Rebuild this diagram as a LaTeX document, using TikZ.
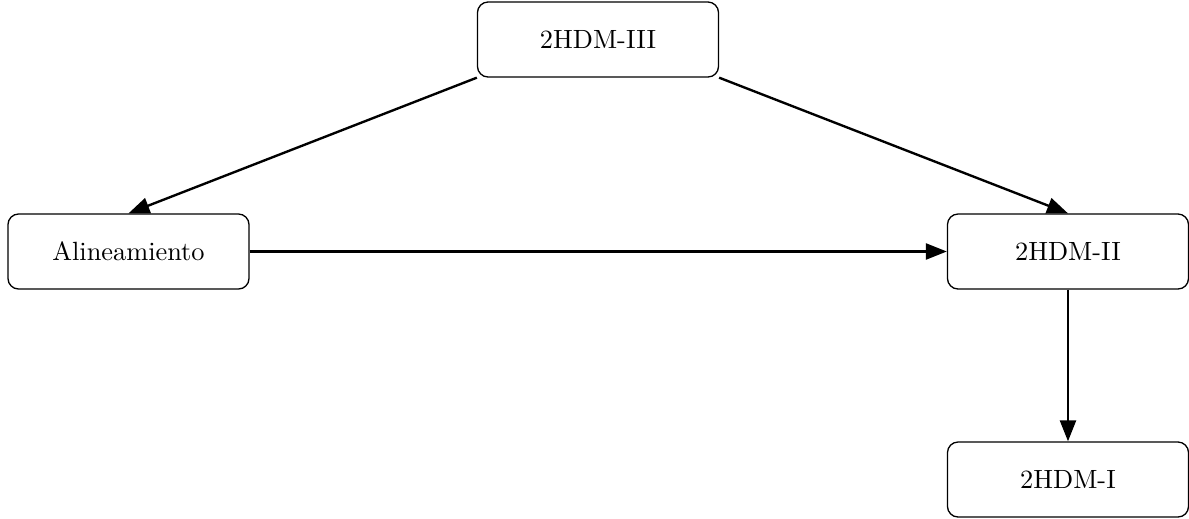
\documentclass[tikz,border=0pt]{standalone}
\usetikzlibrary{arrows.meta}
\begin{document}
\begin{tikzpicture}[x=1cm/75,y=-1cm/75,
  box/.style={draw,rounded corners=4pt,line width=0.5pt,minimum width=241/75*1cm,minimum height=75/75*1cm,inner sep=0pt},
  conn/.style={line width=0.9pt,-{Triangle[length=21/75*1cm,width=16/75*1cm]}}]
\useasboundingbox (0,0) rectangle (1189,518);
\node[box] (iii) at (598,39.5) {2HDM-III};
\node[box] (al) at (128.5,251.5) {Alineamiento};
\node[box] (ii) at (1068,251.5) {2HDM-II};
\node[box] (i) at (1068,479.5) {2HDM-I};
\draw[conn] (iii.south west) -- (al.north);
\draw[conn] (iii.south east) -- (ii.north);
\draw[conn] (al.east) -- (ii.west);
\draw[conn] (ii.south) -- (i.north);
\end{tikzpicture}
\end{document}
